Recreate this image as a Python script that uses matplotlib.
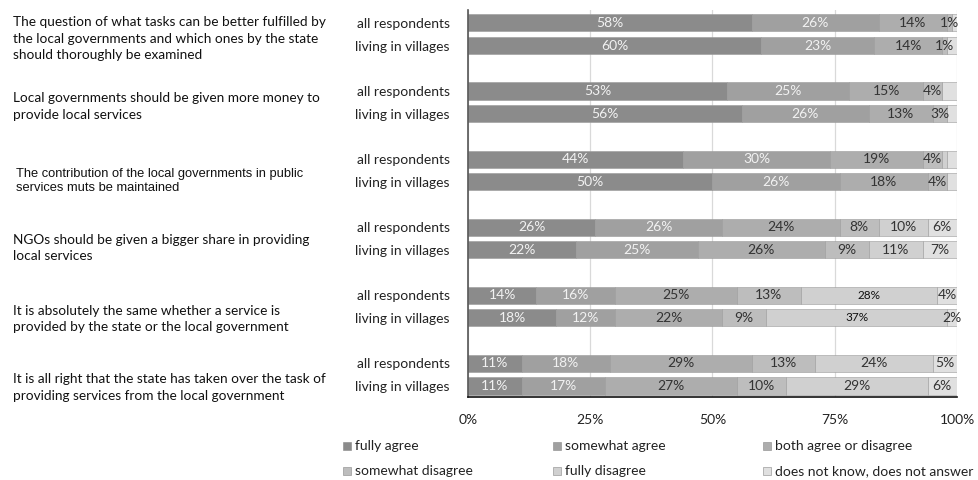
import numpy as np
import matplotlib.pyplot as plt
from matplotlib.patches import Rectangle
from matplotlib.transforms import blended_transform_factory

# survey statements, top to bottom
questions = [
    "The question of what tasks can be better fulfilled by\nthe local governments and which ones by the state\nshould thoroughly be examined",
    "Local governments should be given more money to\nprovide local services",
    "The contribution of the local governments in public\nservices muts be maintained",
    "NGOs should be given a bigger share in providing\nlocal services",
    "It is absolutely the same whether a service is\nprovided by the state or the local government",
    "It is all right that the state has taken over the task of\nproviding services from the local government",
]
groups = ["all respondents", "living in villages"]
categories = ["fully agree", "somewhat agree", "both agree or disagree",
              "somewhat disagree", "fully disagree", "does not know, does not answer"]

# shares in %, one entry per bar (question x group)
fully_agree = [58, 60, 53, 56, 44, 50, 26, 22, 14, 18, 11, 11]
somewhat_agree = [26, 23, 25, 26, 30, 26, 26, 25, 16, 12, 18, 17]
both = [14, 14, 15, 13, 19, 18, 24, 26, 25, 22, 29, 27]
somewhat_disagree = [1, 1, 4, 3, 4, 4, 8, 9, 13, 9, 13, 10]
fully_disagree = [0, 0, 0, 0, 1, 0, 10, 11, 28, 37, 24, 29]
dont_know = [1, 2, 3, 2, 2, 2, 6, 7, 4, 2, 5, 6]

series = [fully_agree, somewhat_agree, both, somewhat_disagree, fully_disagree, dont_know]
colors = ["#8b8b8b", "#a0a0a0", "#adadad", "#bdbdbd", "#d0d0d0", "#e0e0e0"]
text_colors = ["#f2f2f2", "#f2f2f2", "#333333", "#333333", "#333333", "#333333"]

plt.rcParams['font.family'] = ['Lato', 'DejaVu Sans']

fig = plt.figure(figsize=(9.79, 4.8), dpi=100)
ax = fig.add_axes([468 / 979, 83 / 480, 489 / 979, 387 / 480])

# bar positions: two bars per statement, gap between statements
ypos = []
for q in range(len(questions)):
    ypos += [q * 3, q * 3 + 1]
ypos = np.array(ypos)

left = np.zeros(len(ypos))
for i, vals in enumerate(series):
    vals = np.array(vals)
    ax.barh(ypos, vals, left=left, height=0.75, color=colors[i],
            edgecolor="#9a9a9a", linewidth=0.4, zorder=2)
    for j, v in enumerate(vals):
        if v == 0:
            continue
        # first three statements only label the first four answers
        if i >= 4 and j < 6:
            continue
        size = 10
        tc = text_colors[i]
        if i == 4 and j in (8, 9):
            size = 8.5
            tc = "#111111"
        ax.text(left[j] + v / 2, ypos[j], f"{v}%", ha="center", va="center",
                fontsize=size, color=tc, zorder=3)
    left += vals

ax.set_xlim(0, 100)
ax.set_ylim(16.485, -0.57)
ax.set_xticks([0, 25, 50, 75, 100])
ax.set_xticklabels(["0%", "25%", "50%", "75%", "100%"], fontsize=10, color="#222222")
ax.tick_params(axis="x", length=0, pad=12)
ax.set_yticks(ypos)
ax.set_yticklabels(groups * len(questions), fontsize=10, color="#222222")
ax.tick_params(axis="y", length=0, pad=13)
ax.grid(axis="x", color="#d9d9d9", linewidth=0.9, zorder=0)
for s in ["top", "right"]:
    ax.spines[s].set_visible(False)
ax.spines["left"].set_color("#555555")
ax.spines["left"].set_linewidth(1.2)
ax.spines["bottom"].set_color("#111111")
ax.spines["bottom"].set_linewidth(1.2)

# statement texts on the left, one per pair of bars
offsets = [0.2, 0.18, 0.45, 0.42, 0.55, 0.57]
trans = blended_transform_factory(fig.transFigure, ax.transData)
for q, text in enumerate(questions):
    y = q * 3 + 0.5 + offsets[q]
    if q == 2:
        ax.text(16 / 979, y, text, transform=trans, ha="left", va="center",
                fontsize=9.3, family="Liberation Sans", color="#111111",
                linespacing=1.2)
    else:
        ax.text(13 / 979, y, text, transform=trans, ha="left", va="center",
                fontsize=9.8, color="#111111", linespacing=1.45)

# legend laid out in three columns
col_x = [343, 553, 763]
row_y = [446, 471]
for i, name in enumerate(categories):
    x = col_x[i % 3] / 979
    y = 1 - row_y[i // 3] / 480
    fig.patches.append(Rectangle((x, y - 4 / 480), 8 / 979, 8 / 480,
                                 transform=fig.transFigure, facecolor=colors[i],
                                 edgecolor="#888888", linewidth=0.4))
    fig.text(x + 12 / 979, y, name, ha="left", va="center", fontsize=10, color="#222222")

fig.savefig("out.png", dpi=100)
